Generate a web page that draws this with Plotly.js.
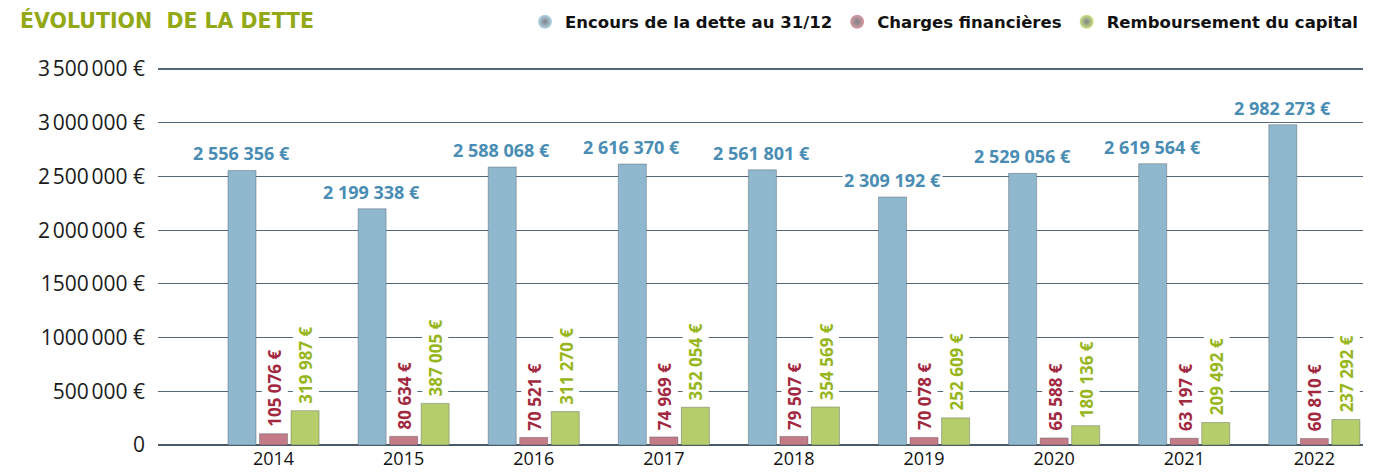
<!DOCTYPE html>
<html>
<head>
<meta charset="utf-8">
<script src="https://cdn.plot.ly/plotly-3.0.1.min.js"></script>
<style>
  html, body { margin: 0; padding: 0; background: #ffffff; }
  #chart { width: 1373px; height: 472px; }
</style>
</head>
<body>
<div id="chart"></div>
<script>
const years = ['2014', '2015', '2016', '2017', '2018', '2019', '2020', '2021', '2022'];
const encours = [2556356, 2199338, 2588068, 2616370, 2561801, 2309192, 2529056, 2619564, 2982273];
const charges = [105076, 80634, 70521, 74969, 79507, 70078, 65588, 63197, 60810];
const remboursement = [319987, 387005, 311270, 352054, 354569, 252609, 180136, 209492, 237292];
const seriesNames = ['Encours de la dette au 31/12', 'Charges financières', 'Remboursement du capital'];
const yTickVals = [0, 500000, 1000000, 1500000, 2000000, 2500000, 3000000, 3500000];
const yTickText = ['0', '500\u202F000 €', '1000\u202F000 €', '1500\u202F000 €', '2\u202F000\u202F000 €', '2\u202F500\u202F000 €', '3\u202F000\u202F000 €', '3\u202F500\u202F000 €'];

const barColors = ['#8fb7cd', '#c27b87', '#b6cd6c'];
const labelColors = ['#4a8db4', '#a2283f', '#97b51c'];
const sphereColors = ['#b4d4e6', '#d89aa4', '#cfe385'];

function fmt(v) {
  return v.toString().replace(/\B(?=(\d{3})+(?!\d))/g, ' ') + ' €';
}

const series = [encours, charges, remboursement];
const traces = series.map((vals, i) => ({
  type: 'bar',
  x: years,
  y: vals,
  name: seriesNames[i],
  showlegend: false,
  marker: { color: barColors[i], line: { color: 'rgba(60,70,80,0.35)', width: 1 } },
  hoverinfo: 'skip'
}));

// legend entries (spheres)
seriesNames.forEach((n, i) => {
  traces.push({
    type: 'scatter', mode: 'markers', x: [null], y: [null], name: n,
    marker: { size: 14, color: sphereColors[i], symbol: 'circle',
              gradient: { type: 'radial', color: '#7c8286' } },
    hoverinfo: 'skip'
  });
});

const labelFont = 'Open Sans, sans-serif';
const annotations = [];
const shifts = [-32, 1, 32];
series.forEach((vals, i) => {
  vals.forEach((v, k) => {
    annotations.push({
      x: k, y: v, xref: 'x', yref: 'y',
      text: fmt(v), showarrow: false,
      xshift: shifts[i], yshift: i === 0 ? 3 : 5,
      xanchor: 'center', yanchor: 'bottom',
      textangle: i === 0 ? 0 : -90,
      bgcolor: '#ffffff', borderpad: 1,
      font: { family: labelFont, size: i === 0 ? 18 : 17, color: labelColors[i], weight: 700 }
    });
  });
});

const layout = {
  width: 1373, height: 472,
  margin: { l: 158, r: 10, t: 68, b: 27 },
  paper_bgcolor: '#ffffff', plot_bgcolor: '#ffffff',
  barmode: 'group', bargap: 0.273, bargroupgap: 0.11,
  title: {
    text: 'ÉVOLUTION  DE LA DETTE',
    xref: 'container', yref: 'container',
    x: 20 / 1373, xanchor: 'left',
    y: 1 - 21 / 472, yanchor: 'middle',
    font: { family: 'DejaVu Sans, sans-serif', size: 20.5, color: '#93a815', weight: 700 }
  },
  showlegend: true,
  legend: {
    orientation: 'h', xref: 'paper', yref: 'container',
    x: 1.0, xanchor: 'right', y: 1 - 22 / 472, yanchor: 'middle',
    font: { family: 'DejaVu Sans, sans-serif', size: 16.5, color: '#111111', weight: 700 },
    itemwidth: 30, tracegroupgap: 0
  },
  xaxis: {
    type: 'category',
    range: [-0.888, 8.374],
    showgrid: false, zeroline: false, showline: false,
    ticks: '', ticklabelstandoff: 1,
    tickfont: { family: 'Open Sans, sans-serif', size: 18, color: '#111111' },
    fixedrange: true
  },
  yaxis: {
    range: [0, 3510000],
    tickvals: yTickVals, ticktext: yTickText,
    showgrid: true, gridcolor: '#52687a', gridwidth: 1.2,
    zeroline: true, zerolinecolor: '#4a5a66', zerolinewidth: 2.5,
    ticks: '', ticklabelstandoff: 12,
    tickfont: { family: 'Open Sans, sans-serif', size: 21, color: '#1a1a1a' },
    fixedrange: true
  },
  annotations: annotations
};

Plotly.newPlot('chart', traces, layout, { displayModeBar: false, staticPlot: true });
</script>
</body>
</html>
